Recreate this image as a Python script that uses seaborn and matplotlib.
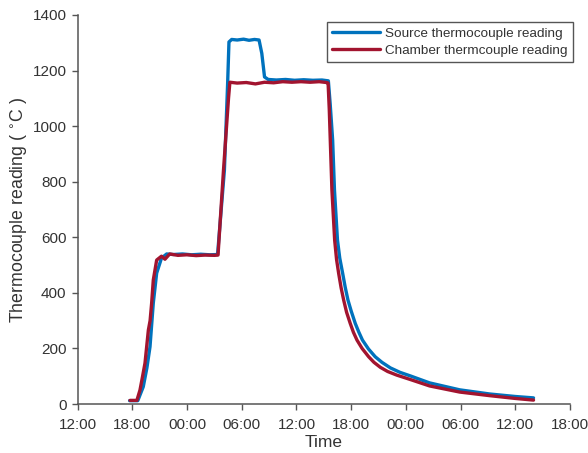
import numpy as np
import pandas as pd
import matplotlib
matplotlib.use("Agg")
import matplotlib.pyplot as plt
import seaborn as sns

# ---- data (hours since 12:00 on day 1) ----
source_hours = [5.7, 6.6, 7.2, 7.6, 7.94, 8.3, 8.67, 9.2, 9.77, 10.5, 11.5, 12.5, 13.5, 14.5, 15.35,
                16.1, 16.45, 16.6, 16.9, 17.5, 18.2, 18.8, 19.4, 19.9, 20.2, 20.5, 20.9, 21.8, 22.8,
                23.8, 24.8, 25.8, 26.8, 27.5, 27.7, 27.97, 28.17, 28.5, 28.75, 29.07, 29.35, 29.65,
                30.0, 30.45, 30.85, 31.24, 31.9, 32.64, 33.38, 34.3, 35.35, 36.5, 38.6, 41.9, 45.2,
                48.0, 50.0]
source_temp = [12, 12, 62, 130, 206, 363, 471, 525, 540, 538, 540, 537, 539, 537, 538,
               842, 1150, 1303, 1312, 1310, 1313, 1309, 1312, 1310, 1262, 1177, 1168, 1166, 1168,
               1165, 1167, 1165, 1166, 1163, 1080, 950, 770, 590, 525, 470, 420, 374,
               335, 290, 258, 230, 198, 170, 150, 130, 114, 101, 76, 51, 36,
               27, 22]

chamber_hours = [5.75, 6.5, 6.84, 7.1, 7.39, 7.76, 7.95, 8.12, 8.3, 8.67, 9.2, 9.58, 10.1, 11.0, 12.0,
                 13.0, 14.0, 15.0, 15.4, 16.0, 16.55, 16.7, 17.5, 18.5, 19.5, 20.5, 21.5, 22.5, 23.5,
                 24.5, 25.5, 26.5, 27.3, 27.47, 27.6, 27.71, 27.89, 28.19, 28.4, 28.63, 28.9, 29.18,
                 29.5, 29.9, 30.25, 30.64, 31.2, 31.92, 32.5, 33.2, 34.0, 35.0, 36.5, 38.6, 41.9,
                 45.2, 48.0, 50.0]
chamber_temp = [13, 13, 50, 95, 147, 266, 300, 363, 446, 518, 532, 521, 540, 535, 537,
                534, 536, 535, 536, 842, 1100, 1158, 1155, 1157, 1152, 1158, 1156, 1160, 1158,
                1160, 1158, 1160, 1157, 1155, 1060, 950, 770, 590, 520, 470, 418, 374,
                330, 290, 258, 230, 200, 170, 150, 132, 117, 104, 88, 65, 43,
                30, 20, 14]

series_names = ["Source thermocouple reading", "Chamber thermcouple reading"]
x_ticks = [0, 6, 12, 18, 24, 30, 36, 42, 48, 54]
x_tick_labels = ["12:00", "18:00", "00:00", "06:00", "12:00", "18:00", "00:00", "06:00", "12:00", "18:00"]
y_ticks = [0, 200, 400, 600, 800, 1000, 1200, 1400]

df = pd.concat([
    pd.DataFrame({"hours": source_hours, "temp": source_temp, "series": series_names[0]}),
    pd.DataFrame({"hours": chamber_hours, "temp": chamber_temp, "series": series_names[1]}),
], ignore_index=True)

sns.set_style("ticks")
plt.rcParams["font.family"] = ["Liberation Sans", "DejaVu Sans"]

fig = plt.figure(figsize=(5.88, 4.53), dpi=100)
ax = fig.add_axes([77.6 / 588, 1 - 404 / 453, (570 - 77.6) / 588, (404 - 15) / 453])

palette = {series_names[0]: "#0072BD", series_names[1]: "#A2142F"}
sns.lineplot(data=df, x="hours", y="temp", hue="series", palette=palette,
             estimator=None, sort=False, linewidth=2.4, ax=ax)

ax.set_xlim(0, 54)
ax.set_ylim(0, 1400)
ax.set_xticks(x_ticks)
ax.set_xticklabels(x_tick_labels)
ax.set_yticks(y_ticks)

text_color = "#333333"
axis_color = "#555555"
for s in ["top", "right"]:
    ax.spines[s].set_visible(False)
for s in ["left", "bottom"]:
    ax.spines[s].set_color(axis_color)
    ax.spines[s].set_linewidth(1.1)
ax.tick_params(axis="both", direction="out", length=4, width=1.0, color=axis_color,
               labelcolor=text_color, labelsize=11, pad=4)
ax.tick_params(axis="x", pad=6)

ax.set_xlabel("Time", fontsize=12.5, color=text_color, labelpad=2)
ax.set_ylabel("Thermocouple reading ( $^{\\circ}$C )", fontsize=12.8, color=text_color, labelpad=2)

leg = ax.legend(loc="upper right", bbox_to_anchor=(573 / 588, 1 - 21.7 / 453),
                bbox_transform=fig.transFigure, borderaxespad=0, fancybox=False,
                framealpha=1, edgecolor="#555555", fontsize=9.7, handlelength=3.6,
                handletextpad=0.35, borderpad=0.4, labelspacing=0.35, title=None)
leg.get_frame().set_linewidth(1.0)
for t in leg.get_texts():
    t.set_color(text_color)

fig.savefig("out.png", dpi=100)
